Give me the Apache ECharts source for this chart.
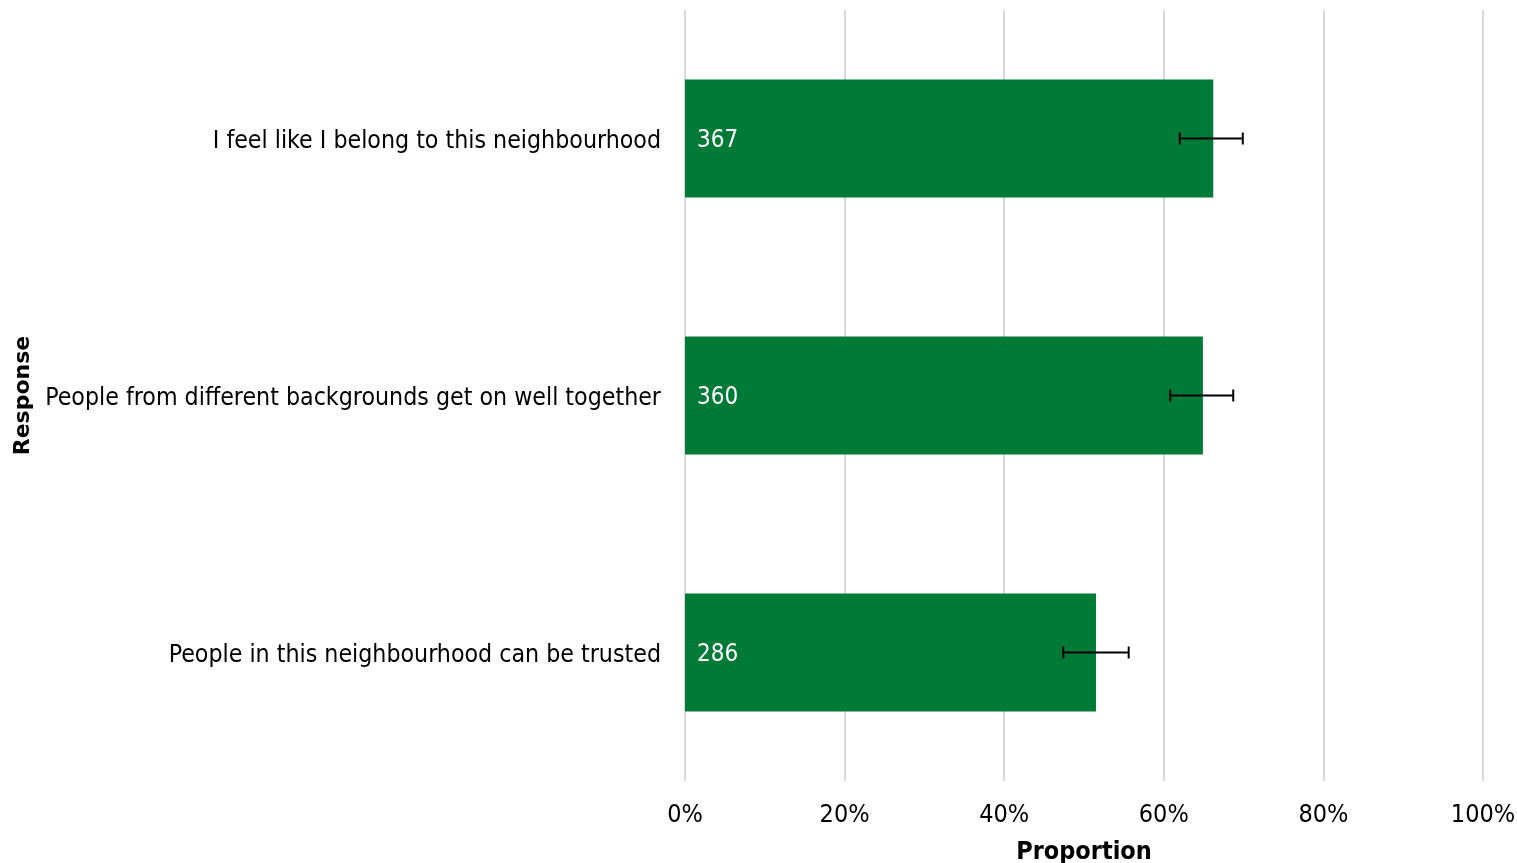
<!DOCTYPE html>
<html><head><meta charset="utf-8">
<script src="https://cdn.jsdelivr.net/npm/echarts@6/dist/echarts.min.js"></script>
<style>html,body{margin:0;padding:0;background:#fff}#c{width:1517px;height:863px}</style>
</head><body><div id="c"></div>
<script>
const categories = ["People in this neighbourhood can be trusted","People from different backgrounds get on well together","I feel like I belong to this neighbourhood"];
const proportions = [51.5, 64.9, 66.2];
const counts = [286, 360, 367];
const errLow = [47.4, 60.8, 62.0];
const errHigh = [55.6, 68.7, 69.9];
const xTicks = [0,20,40,60,80,100];

const FONT = "DejaVu Sans Condensed";
const chart = echarts.init(document.getElementById('c'));
chart.setOption({
  animation:false,
  grid:{left:685,right:34,top:10,bottom:82,containLabel:false,outerBoundsMode:'none'},
  xAxis:{type:'value',min:0,max:100,interval:20,
    axisLine:{show:false},axisTick:{show:false},
    splitLine:{lineStyle:{color:'#d9d9d9',width:2}},
    axisLabel:{formatter:v=>v+'%',fontFamily:FONT,fontSize:25,color:'#000',margin:22},
    name:'Proportion',nameLocation:'middle',nameGap:59,
    nameTextStyle:{fontFamily:FONT,fontWeight:'bold',fontSize:25,color:'#000'}},
  yAxis:{type:'category',data:categories,
    axisLine:{show:false},axisTick:{show:false},
    axisLabel:{fontFamily:FONT,fontSize:24.7,color:'#000',margin:24,
      formatter:v=>'{a|'+v+'}',
      rich:{a:{fontFamily:FONT,fontSize:24.7,color:'#000',padding:[6,0,0,0]}}},
    name:'Response',nameLocation:'middle',nameGap:641,nameRotate:90,
    nameTextStyle:{fontFamily:'DejaVu Sans',fontWeight:'bold',fontSize:22,color:'#000'}},
  series:[
    {type:'bar',data:proportions,barWidth:'46%',itemStyle:{color:'#007a37'},
      label:{show:true,position:'insideLeft',offset:[0,2],distance:12,color:'#fff',fontFamily:FONT,fontSize:24,
        formatter:p=>counts[p.dataIndex]}},
    {type:'custom',data:errLow.map((l,i)=>[i,l,errHigh[i]]),z:10,
      renderItem:(params,api)=>{
        const c=api.value(0);
        const p1=api.coord([api.value(1),c]);
        const p2=api.coord([api.value(2),c]);
        const h=6;
        const st={stroke:'#000',lineWidth:2};
        return {type:'group',children:[
          {type:'line',shape:{x1:p1[0],y1:p1[1],x2:p2[0],y2:p2[1]},style:st},
          {type:'line',shape:{x1:p1[0],y1:p1[1]-h,x2:p1[0],y2:p1[1]+h},style:st},
          {type:'line',shape:{x1:p2[0],y1:p2[1]-h,x2:p2[0],y2:p2[1]+h},style:st}
        ]};
      }}
  ]
});
</script></body></html>
